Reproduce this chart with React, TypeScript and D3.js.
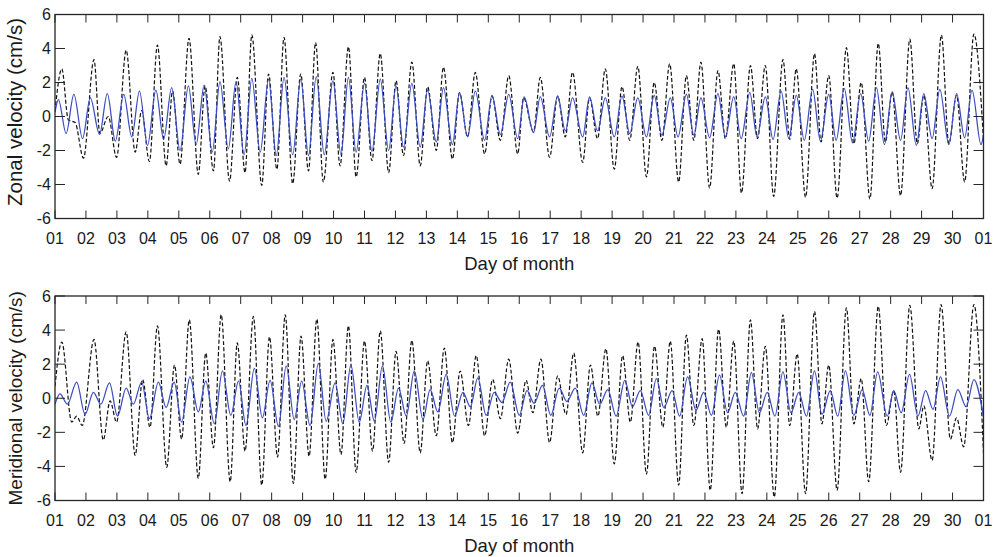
import React from 'react';
import * as d3 from 'd3';

// ---------- data (extrema, [day, cm/s]) ----------
const xTickDays = [1, 2, 3, 4, 5, 6, 7, 8, 9, 10, 11, 12, 13, 14, 15, 16, 17, 18, 19, 20, 21, 22, 23, 24, 25, 26, 27, 28, 29, 30, 31];
const xTickLabels = ['01', '02', '03', '04', '05', '06', '07', '08', '09', '10', '11', '12', '13', '14', '15', '16', '17', '18', '19', '20', '21', '22', '23', '24', '25', '26', '27', '28', '29', '30', '01'];
const yTicks = [-6, -4, -2, 0, 2, 4, 6];
const yTickLabels = ['-6', '-4', '-2', '0', '2', '4', '6'];

const zonalObserved: [number, number][] = [
  [1.00, 0.3], [1.22, 2.8], [1.43, -0.2], [1.65, -0.35], [1.92, -2.45], [2.26, 3.35], [2.45, -1.0], [2.72, 0.0],
  [2.99, -2.4], [3.30, 3.9], [3.59, -2.1], [3.80, 0.35], [4.05, -2.65], [4.31, 4.2], [4.59, -2.9], [4.80, 1.5],
  [5.04, -2.8], [5.33, 4.6], [5.63, -3.4], [5.85, 1.8], [6.12, -3.2], [6.33, 4.7], [6.64, -3.8], [6.89, 2.3],
  [7.14, -3.3], [7.36, 4.8], [7.68, -4.05], [7.90, 2.5], [8.17, -3.1], [8.40, 4.65], [8.68, -3.95], [8.94, 2.5],
  [9.19, -3.2], [9.42, 4.35], [9.67, -3.85], [9.98, 2.6], [10.21, -2.9], [10.48, 4.1], [10.73, -3.55], [11.00, 2.3],
  [11.24, -2.6], [11.51, 3.7], [11.78, -3.3], [12.02, 2.1], [12.26, -2.3], [12.53, 3.2], [12.80, -2.9], [13.04, 1.75],
  [13.32, -2.0], [13.55, 2.9], [13.84, -2.5], [14.07, 1.4], [14.33, -1.2], [14.58, 2.6], [14.88, -2.2], [15.12, 1.2],
  [15.39, -1.4], [15.66, 2.4], [15.95, -2.2], [16.14, 1.1], [16.46, -0.9], [16.68, 2.3], [16.98, -2.4], [17.24, 1.2],
  [17.49, -1.2], [17.72, 2.6], [18.05, -2.7], [18.27, 1.1], [18.53, -1.3], [18.78, 2.8], [19.07, -3.1], [19.32, 1.75],
  [19.57, -1.4], [19.83, 2.95], [20.11, -3.55], [20.36, 2.0], [20.61, -1.4], [20.86, 3.1], [21.15, -3.85], [21.40, 2.4],
  [21.64, -1.4], [21.87, 3.2], [22.15, -4.2], [22.42, 2.7], [22.66, -1.3], [22.93, 3.1], [23.18, -4.5], [23.47, 3.0],
  [23.70, -1.3], [23.95, 3.0], [24.22, -4.7], [24.52, 3.35], [24.74, -1.35], [24.95, 2.8], [25.25, -4.75], [25.54, 3.7],
  [25.75, -1.5], [26.00, 2.4], [26.27, -4.8], [26.57, 4.05], [26.81, -1.6], [27.05, 2.0], [27.33, -4.85], [27.60, 4.3],
  [27.83, -1.5], [28.05, 1.45], [28.32, -4.65], [28.62, 4.55], [28.86, -1.6], [29.07, 1.25], [29.34, -4.25], [29.64, 4.8],
  [29.88, -1.6], [30.13, 1.25], [30.39, -3.85], [30.69, 4.85], [31.00, -1.4],
];

const zonalFitted: [number, number][] = [
  [1.00, 0.25], [1.11, 1.0], [1.36, -1.0], [1.61, 1.3], [1.89, -1.3], [2.14, 1.1], [2.44, -1.05], [2.69, 1.35],
  [2.95, -1.45], [3.22, 1.3], [3.48, -1.2], [3.73, 1.5], [3.99, -1.7], [4.26, 1.55], [4.51, -1.35], [4.77, 1.7],
  [5.04, -2.0], [5.31, 1.8], [5.56, -1.65], [5.82, 1.85], [6.08, -2.1], [6.33, 2.05], [6.60, -1.9], [6.85, 2.05],
  [7.11, -2.25], [7.36, 2.25], [7.63, -2.1], [7.90, 2.2], [8.15, -2.3], [8.40, 2.3], [8.68, -2.25], [8.94, 2.2],
  [9.19, -2.3], [9.44, 2.35], [9.70, -2.25], [9.98, 2.1], [10.24, -2.25], [10.48, 2.3], [10.73, -2.1], [11.00, 1.95],
  [11.24, -2.05], [11.51, 2.2], [11.78, -2.0], [12.02, 1.8], [12.26, -1.8], [12.53, 1.95], [12.80, -1.8], [13.04, 1.55],
  [13.32, -1.5], [13.55, 1.7], [13.84, -1.65], [14.07, 1.4], [14.33, -1.2], [14.58, 1.5], [14.88, -1.4], [15.12, 1.25],
  [15.39, -1.05], [15.66, 1.3], [15.95, -1.3], [16.16, 1.15], [16.46, -0.95], [16.68, 1.15], [16.98, -1.2], [17.24, 1.2],
  [17.49, -0.85], [17.72, 1.1], [18.05, -1.2], [18.27, 1.15], [18.53, -0.85], [18.78, 1.1], [19.07, -1.2], [19.32, 1.2],
  [19.57, -1.0], [19.83, 1.1], [20.11, -1.2], [20.36, 1.25], [20.61, -1.1], [20.88, 1.1], [21.13, -1.2], [21.40, 1.3],
  [21.64, -1.1], [21.87, 1.1], [22.15, -1.25], [22.42, 1.35], [22.66, -1.2], [22.93, 1.15], [23.17, -1.3], [23.45, 1.4],
  [23.68, -1.2], [23.95, 1.15], [24.20, -1.35], [24.46, 1.5], [24.71, -1.3], [24.95, 1.25], [25.21, -1.4], [25.48, 1.6],
  [25.73, -1.45], [26.00, 1.3], [26.24, -1.4], [26.50, 1.65], [26.77, -1.55], [27.03, 1.35], [27.29, -1.45], [27.54, 1.7],
  [27.80, -1.65], [28.05, 1.45], [28.32, -1.4], [28.56, 1.7], [28.83, -1.7], [29.07, 1.35], [29.34, -1.3], [29.59, 1.6],
  [29.88, -1.65], [30.13, 1.35], [30.39, -1.25], [30.63, 1.55], [30.92, -1.65], [31.00, -1.1],
];

const meridionalObserved: [number, number][] = [
  [1.00, 0.7], [1.22, 3.3], [1.54, -1.4], [1.70, -1.05], [1.88, -1.6], [2.26, 3.45], [2.56, -2.45], [2.78, -0.15],
  [2.99, -1.4], [3.30, 3.9], [3.59, -3.35], [3.83, 1.1], [4.07, -1.7], [4.31, 4.25], [4.61, -4.05], [4.86, 1.95],
  [5.09, -2.4], [5.34, 4.6], [5.63, -4.7], [5.87, 2.65], [6.12, -2.9], [6.37, 4.9], [6.66, -4.9], [6.89, 3.25],
  [7.14, -3.1], [7.41, 4.8], [7.68, -5.1], [7.93, 3.6], [8.19, -3.45], [8.44, 4.9], [8.70, -5.0], [8.95, 3.65],
  [9.21, -3.4], [9.46, 4.65], [9.73, -4.75], [9.98, 3.45], [10.24, -3.3], [10.48, 4.25], [10.73, -4.35], [11.00, 3.35],
  [11.26, -3.1], [11.51, 3.95], [11.78, -3.75], [12.02, 2.75], [12.28, -2.65], [12.53, 3.4], [12.80, -3.2], [13.04, 2.2],
  [13.32, -2.2], [13.58, 2.95], [13.84, -2.6], [14.09, 1.6], [14.36, -1.6], [14.61, 2.5], [14.88, -2.2], [15.14, 1.1],
  [15.39, -1.2], [15.66, 2.3], [15.95, -2.05], [16.22, 1.05], [16.44, -0.85], [16.70, 2.3], [16.98, -2.6], [17.24, 1.3],
  [17.51, -0.95], [17.76, 2.65], [18.05, -3.2], [18.30, 1.95], [18.54, -1.05], [18.80, 2.9], [19.07, -3.85], [19.34, 2.5],
  [19.59, -1.4], [19.84, 3.3], [20.11, -4.45], [20.37, 3.05], [20.64, -1.7], [20.88, 3.35], [21.15, -5.1], [21.40, 3.7],
  [21.64, -1.6], [21.91, 3.5], [22.17, -5.4], [22.44, 4.05], [22.69, -1.7], [22.93, 3.35], [23.20, -5.6], [23.47, 4.6],
  [23.70, -1.8], [23.95, 3.05], [24.24, -5.8], [24.52, 4.9], [24.74, -1.6], [24.98, 2.6], [25.25, -5.6], [25.54, 5.1],
  [25.78, -1.5], [26.00, 1.95], [26.27, -5.4], [26.57, 5.3], [26.81, -1.5], [27.05, 1.15], [27.29, -4.9], [27.60, 5.4],
  [27.86, -1.6], [28.10, 0.45], [28.32, -4.35], [28.62, 5.45], [28.91, -1.8], [29.07, -0.45], [29.34, -3.65], [29.63, 5.5],
  [29.93, -2.4], [30.13, -1.15], [30.36, -2.85], [30.69, 5.5], [31.00, -3.2],
];

const meridionalFitted: [number, number][] = [
  [1.00, -0.35], [1.16, 0.25], [1.40, -0.35], [1.70, 0.95], [1.97, -0.95], [2.24, 0.35], [2.48, -0.35], [2.76, 0.9],
  [3.02, -1.05], [3.30, 0.6], [3.53, -0.35], [3.80, 0.95], [4.05, -1.2], [4.34, 0.95], [4.59, -0.55], [4.85, 0.95],
  [5.09, -1.4], [5.36, 1.25], [5.63, -0.8], [5.87, 1.0], [6.15, -1.5], [6.41, 1.6], [6.68, -1.0], [6.93, 1.0],
  [7.17, -1.6], [7.44, 1.75], [7.70, -1.15], [7.95, 1.05], [8.22, -1.65], [8.47, 1.9], [8.73, -1.25], [8.97, 1.0],
  [9.24, -1.6], [9.51, 2.05], [9.76, -1.35], [10.05, 0.9], [10.30, -1.5], [10.56, 1.95], [10.83, -1.4], [11.08, 0.75],
  [11.32, -1.35], [11.58, 1.9], [11.85, -1.4], [12.10, 0.6], [12.35, -1.05], [12.61, 1.6], [12.89, -1.25], [13.12, 0.5],
  [13.37, -0.8], [13.64, 1.4], [13.91, -1.05], [14.18, 0.35], [14.42, -0.5], [14.66, 1.2], [14.93, -1.0], [15.19, 0.35],
  [15.44, -0.25], [15.71, 0.95], [16.00, -1.0], [16.25, 0.45], [16.48, -0.3], [16.75, 0.75], [17.02, -1.0], [17.29, 0.6],
  [17.54, -0.2], [17.81, 0.6], [18.08, -1.0], [18.35, 0.9], [18.60, -0.35], [18.86, 0.5], [19.13, -1.05], [19.41, 1.05],
  [19.66, -0.5], [19.91, 0.45], [20.18, -1.0], [20.43, 1.15], [20.67, -0.55], [20.94, 0.45], [21.18, -1.05], [21.44, 1.25],
  [21.71, -0.7], [21.96, 0.35], [22.21, -1.0], [22.47, 1.35], [22.73, -0.85], [22.98, 0.35], [23.25, -1.05], [23.50, 1.5],
  [23.76, -0.85], [24.01, 0.35], [24.26, -1.05], [24.52, 1.55], [24.78, -0.85], [25.03, 0.35], [25.28, -1.05], [25.54, 1.6],
  [25.78, -0.95], [26.05, 0.45], [26.29, -1.05], [26.54, 1.6], [26.81, -1.0], [27.08, 0.5], [27.33, -1.0], [27.58, 1.55],
  [27.89, -1.05], [28.10, 0.45], [28.34, -0.85], [28.61, 1.4], [28.88, -1.05], [29.13, 0.45], [29.37, -0.65], [29.61, 1.25],
  [29.90, -1.05], [30.17, 0.5], [30.44, -0.5], [30.69, 1.1], [31.00, -1.1],
];

// ---------- layout ----------
const W = 994;
const H = 557;
const LEFT = 55;
const RIGHT = 983.5;
const FONT = "'Liberation Sans', Arial, Helvetica, sans-serif";
const AXIS_COLOR = '#262626';
const FIT_COLOR = '#3b4cc0';

type PanelSpec = {
  key: string;
  top: number;
  bottom: number;
  label: string;
  labelSize: number;
  labelCenter: number;
  observed: [number, number][];
  fitted: [number, number][];
};

const panels: PanelSpec[] = [
  { key: 'zonal', top: 14.5, bottom: 218.5, label: 'Zonal velocity (cm/s)', labelSize: 20.5, labelCenter: 112, observed: zonalObserved, fitted: zonalFitted },
  { key: 'meridional', top: 296, bottom: 500.5, label: 'Meridional velocity (cm/s)', labelSize: 19, labelCenter: 398.3, observed: meridionalObserved, fitted: meridionalFitted },
];

const x = d3.scaleLinear().domain([1, 31]).range([LEFT, RIGHT]);

function Panel({ p }: { p: PanelSpec }) {
  const y = d3.scaleLinear().domain([-6, 6]).range([p.bottom, p.top]);
  const line = d3
    .line<[number, number]>()
    .x((d) => x(d[0]))
    .y((d) => y(d[1]))
    .curve(d3.curveMonotoneX);
  const clipId = `clip-${p.key}`;
  const xTickLen = 8;
  const yTickLen = 10;
  return (
    <g>
      <defs>
        <clipPath id={clipId}>
          <rect x={LEFT} y={p.top} width={RIGHT - LEFT} height={p.bottom - p.top} />
        </clipPath>
      </defs>
      <rect x={LEFT} y={p.top} width={RIGHT - LEFT} height={p.bottom - p.top} fill="#fff" />
      <g clipPath={`url(#${clipId})`}>
        <path d={line(p.observed) || ''} fill="none" stroke="#111" strokeWidth={1.2} strokeDasharray="4 2.2" />
        <path d={line(p.fitted) || ''} fill="none" stroke={FIT_COLOR} strokeWidth={1.25} />
      </g>
      {/* x ticks */}
      {xTickDays.map((d, i) => (
        <g key={`xt${i}`}>
          <line x1={x(d)} x2={x(d)} y1={p.bottom} y2={p.bottom - xTickLen} stroke={AXIS_COLOR} strokeWidth={1} />
          <line x1={x(d)} x2={x(d)} y1={p.top} y2={p.top + xTickLen} stroke={AXIS_COLOR} strokeWidth={1} />
          <text x={x(d)} y={p.bottom + 25} textAnchor="middle" fontFamily={FONT} fontSize={16} fill="#1a1a1a">
            {xTickLabels[i]}
          </text>
        </g>
      ))}
      {/* y ticks */}
      {yTicks.map((v, i) => (
        <g key={`yt${i}`}>
          <line x1={LEFT} x2={LEFT + yTickLen} y1={y(v)} y2={y(v)} stroke={AXIS_COLOR} strokeWidth={1} />
          <line x1={RIGHT} x2={RIGHT - yTickLen} y1={y(v)} y2={y(v)} stroke={AXIS_COLOR} strokeWidth={1} />
          <text x={51} y={y(v)} dy="0.36em" textAnchor="end" fontFamily={FONT} fontSize={16} fill="#1a1a1a">
            {yTickLabels[i]}
          </text>
        </g>
      ))}
      <rect x={LEFT} y={p.top} width={RIGHT - LEFT} height={p.bottom - p.top} fill="none" stroke={AXIS_COLOR} strokeWidth={1.3} />
      <text
        x={(LEFT + RIGHT) / 2}
        y={p.bottom + 51.5}
        textAnchor="middle"
        fontFamily={FONT}
        fontSize={18.5}
        fill="#1a1a1a"
      >
        Day of month
      </text>
      <text
        transform={`translate(22, ${p.labelCenter}) rotate(-90)`}
        textAnchor="middle"
        fontFamily={FONT}
        fontSize={p.labelSize}
        fill="#1a1a1a"
      >
        {p.label}
      </text>
    </g>
  );
}

export default function App() {
  return (
    <svg
      width={W}
      height={H}
      viewBox={`0 0 ${W} ${H}`}
      style={{ position: 'absolute', left: 0, top: 0, background: '#fff' }}
    >
      <rect x={0} y={0} width={W} height={H} fill="#fff" />
      {panels.map((p) => (
        <Panel key={p.key} p={p} />
      ))}
    </svg>
  );
}
